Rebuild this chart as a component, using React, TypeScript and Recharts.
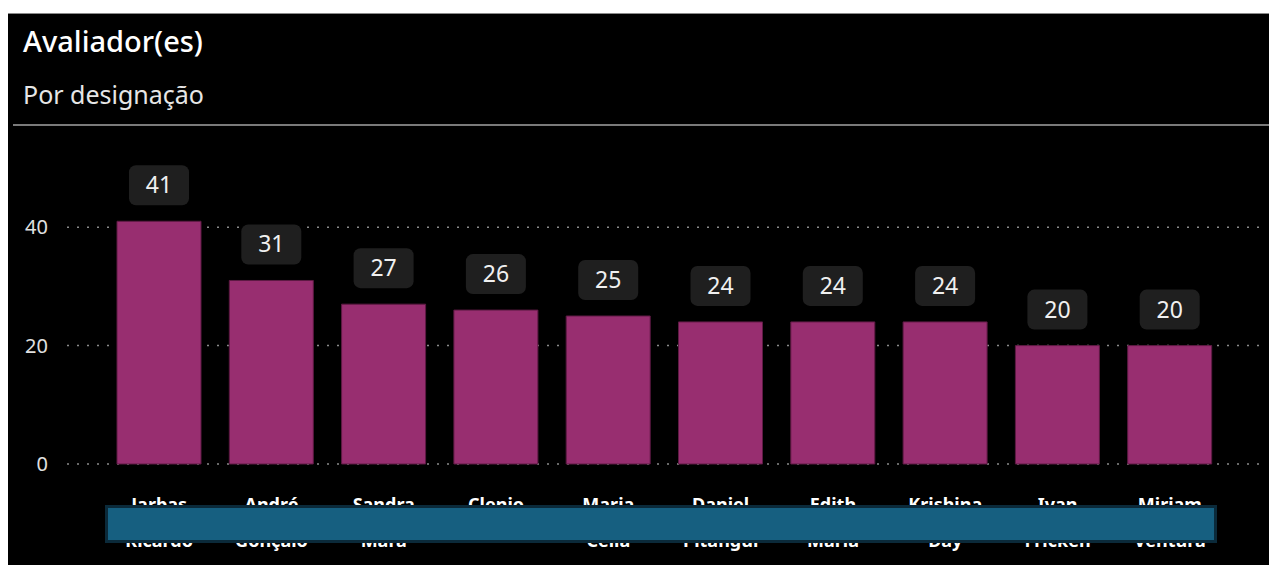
import { Bar, BarChart, CartesianGrid, LabelList, XAxis, YAxis } from 'recharts'

const firstNames = ['Jarbas', 'André', 'Sandra', 'Clenio', 'Maria', 'Daniel', 'Edith', 'Krishina', 'Ivan', 'Miriam']
const lastNames = ['Ricardo', 'Gonçalo', 'Mara', '', 'Celia', 'Pitangui', 'Maria', 'Day', 'Fricken', 'Ventura']
const designacoes = [41, 31, 27, 26, 25, 24, 24, 24, 20, 20]
const yTicks = [0, 20, 40]

const data = firstNames.map((first, i) => ({
  name: lastNames[i] ? `${first} ${lastNames[i]}` : first,
  first,
  last: lastNames[i],
  total: designacoes[i],
}))

const font = '"Noto Sans", "Open Sans", sans-serif'

function ValueBadge(props: any) {
  const { x, y, width, value } = props
  const cx = x + width / 2
  const w = 60
  const h = 40
  const bottom = y - 16
  return (
    <g>
      <rect x={cx - w / 2} y={bottom - h} width={w} height={h} rx={7} fill="#1f1f1f" />
      <text
        x={cx}
        y={bottom - h / 2 + 8}
        textAnchor="middle"
        fill="#f0f0f0"
        fontSize={23}
        fontFamily={font}
      >
        {value}
      </text>
    </g>
  )
}

function NameTick(props: any) {
  const { x, y, index } = props
  const row = data[index]
  return (
    <g>
      <text x={x} y={y + 39} textAnchor="middle" fill="#fff" fontSize={18} fontWeight={700} fontFamily={font}>
        {row.first}
      </text>
      {row.last && (
        <text x={x} y={y + 75} textAnchor="middle" fill="#fff" fontSize={18} fontWeight={700} fontFamily={font}>
          {row.last}
        </text>
      )}
    </g>
  )
}

export default function App() {
  return (
    <div
      style={{
        position: 'fixed',
        left: 8,
        top: 13,
        width: 1261,
        height: 552,
        background: '#000',
        borderTop: '1px solid #8a8a8a',
        boxSizing: 'border-box',
        fontFamily: font,
        overflow: 'hidden',
      }}
    >
      <div style={{ position: 'absolute', left: 15, top: 7, color: '#fff', fontSize: 29, fontWeight: 500 }}>
        Avaliador(es)
      </div>
      <div style={{ position: 'absolute', left: 15, top: 63, color: '#e6e6e6', fontSize: 25 }}>
        Por designação
      </div>
      <div style={{ position: 'absolute', left: 5, right: 0, top: 110, height: 2, background: '#7a7a7a' }} />
      <div style={{ position: 'absolute', left: 0, top: 129 }}>
        <BarChart
          width={1261}
          height={422}
          data={data}
          margin={{ top: 25, right: 9, left: 0, bottom: 0 }}
        >
          <CartesianGrid
            vertical={false}
            horizontalValues={yTicks}
            stroke="#8a8a8a"
            strokeWidth={1.5}
            strokeDasharray="2 8"
          />
          <XAxis
            dataKey="name"
            height={101}
            axisLine={false}
            tickLine={false}
            interval={0}
            padding={{ left: 36, right: 34 }}
            tick={<NameTick />}
          />
          <YAxis
            width={59}
            domain={[0, 50]}
            ticks={yTicks}
            axisLine={false}
            tickLine={false}
            tickMargin={13}
            tick={{ fill: '#e0e0e0', fontSize: 20, fontFamily: font }}
          />
          <Bar dataKey="total" fill="#982e70" stroke="#5e1a44" strokeWidth={1} barSize={84} isAnimationActive={false}>
            <LabelList dataKey="total" content={<ValueBadge />} />
          </Bar>
        </BarChart>
      </div>
      <div
        style={{
          position: 'absolute',
          left: 97,
          top: 491,
          width: 1112,
          height: 38,
          background: '#165f80',
          border: '3px solid #0b2a3a',
          boxSizing: 'border-box',
        }}
      />
    </div>
  )
}
